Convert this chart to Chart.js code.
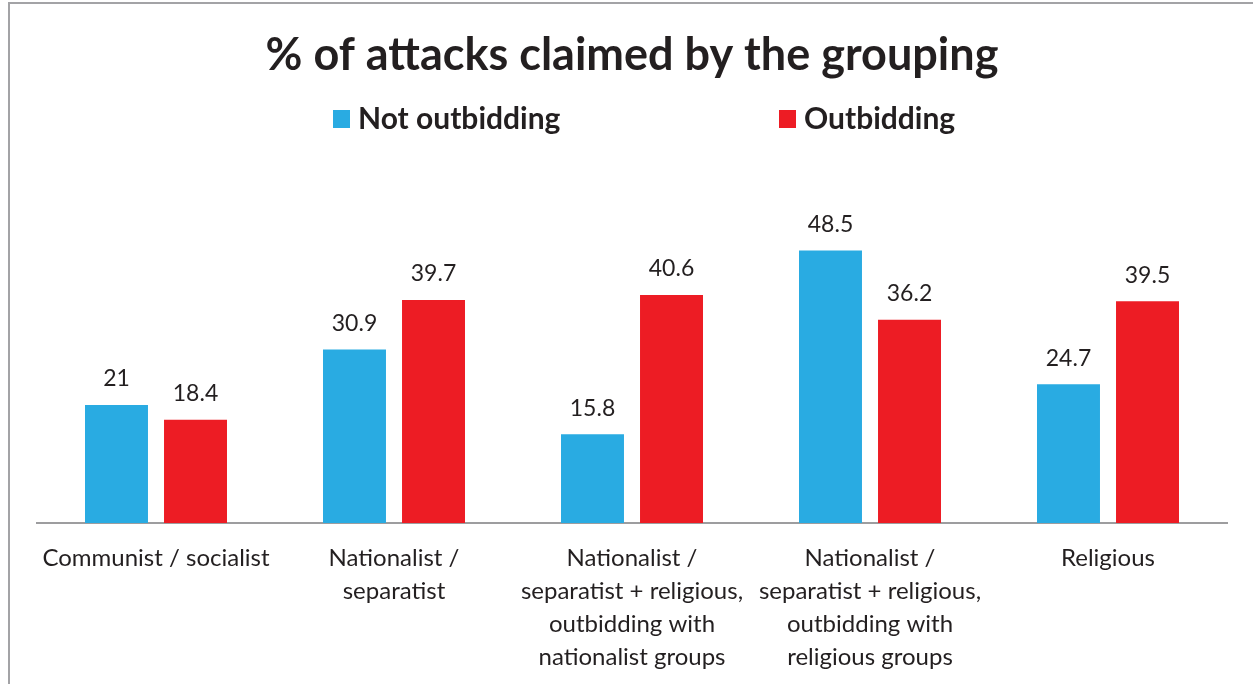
<!DOCTYPE html>
<html>
<head>
<meta charset="utf-8">
<script src="https://cdn.jsdelivr.net/npm/chart.js@4"></script>
<style>
  html, body { margin: 0; padding: 0; background: #fff; }
  #wrap { width: 1253px; height: 684px; position: relative; }
</style>
</head>
<body>
<div id="wrap"><canvas id="attacksChart"></canvas></div>
<script>
const categories = [
  ['Communist / socialist'],
  ['Nationalist /', 'separatist'],
  ['Nationalist /', 'separatist + religious,', 'outbidding with', 'nationalist groups'],
  ['Nationalist /', 'separatist + religious,', 'outbidding with', 'religious groups'],
  ['Religious']
];
const seriesNames = ['Not outbidding', 'Outbidding'];
const notOutbidding = [21, 30.9, 15.8, 48.5, 24.7];
const outbidding = [18.4, 39.7, 40.6, 36.2, 39.5];

const FONT = 'Lato, "Open Sans", sans-serif';

// grey frame round the figure (left and top edges)
const framePlugin = {
  id: 'frame',
  beforeDraw(chart) {
    const c = chart.ctx;
    c.save();
    c.fillStyle = '#fff';
    c.fillRect(0, 0, chart.width, chart.height);
    c.strokeStyle = '#a3a3a6';
    c.lineWidth = 2;
    c.beginPath();
    c.moveTo(9, chart.height);
    c.lineTo(9, 3);
    c.lineTo(chart.width, 3);
    c.stroke();
    c.restore();
  }
};

// value labels above the bars
const valueLabels = {
  id: 'valueLabels',
  afterDatasetsDraw(chart) {
    const c = chart.ctx;
    c.save();
    c.font = '23px ' + FONT;
    c.fillStyle = '#231f20';
    c.textAlign = 'center';
    c.textBaseline = 'middle';
    chart.data.datasets.forEach((ds, i) => {
      chart.getDatasetMeta(i).data.forEach((bar, j) => {
        c.fillText(String(ds.data[j]), bar.x, bar.y - 26);
      });
    });
    c.restore();
  }
};

// legend drawn by hand to get the wide spacing of the original
const wideLegend = {
  id: 'wideLegend',
  afterDraw(chart) {
    const c = chart.ctx;
    const starts = [333, 779];
    c.save();
    c.font = 'bold 30px ' + FONT;
    c.textBaseline = 'middle';
    chart.data.datasets.forEach((ds, i) => {
      const x = starts[i];
      c.fillStyle = ds.backgroundColor;
      c.fillRect(x, 110, 17, 18);
      c.fillStyle = '#231f20';
      c.fillText(ds.label, x + 25, 119);
    });
    c.restore();
  }
};

new Chart(document.getElementById('attacksChart').getContext('2d'), {
  type: 'bar',
  data: {
    labels: categories,
    datasets: [
      { label: seriesNames[0], data: notOutbidding, backgroundColor: '#29abe2' },
      { label: seriesNames[1], data: outbidding, backgroundColor: '#ed1c24' }
    ]
  },
  options: {
    responsive: true,
    maintainAspectRatio: false,
    animation: false,
    categoryPercentage: 0.664,
    barPercentage: 0.797,
    layout: { padding: { left: 37, right: 26, top: 0, bottom: -9 } },
    plugins: {
      legend: { display: false },
      tooltip: { enabled: false },
      title: {
        display: true,
        text: '% of attacks claimed by the grouping',
        color: '#231f20',
        font: { family: FONT, size: 45, weight: 'bold', lineHeight: 1.2 },
        padding: { top: 28, bottom: 104 }
      }
    },
    scales: {
      x: {
        grid: { display: false, drawTicks: false },
        border: { display: true, color: '#9d9d9f', width: 2 },
        ticks: {
          color: '#231f20',
          autoSkip: false,
          maxRotation: 0,
          padding: 19,
          font: { family: FONT, size: 24, lineHeight: 1.375 }
        }
      },
      y: {
        display: false,
        min: 0,
        max: 60
      }
    }
  },
  plugins: [framePlugin, valueLabels, wideLegend]
});
</script>
</body>
</html>
